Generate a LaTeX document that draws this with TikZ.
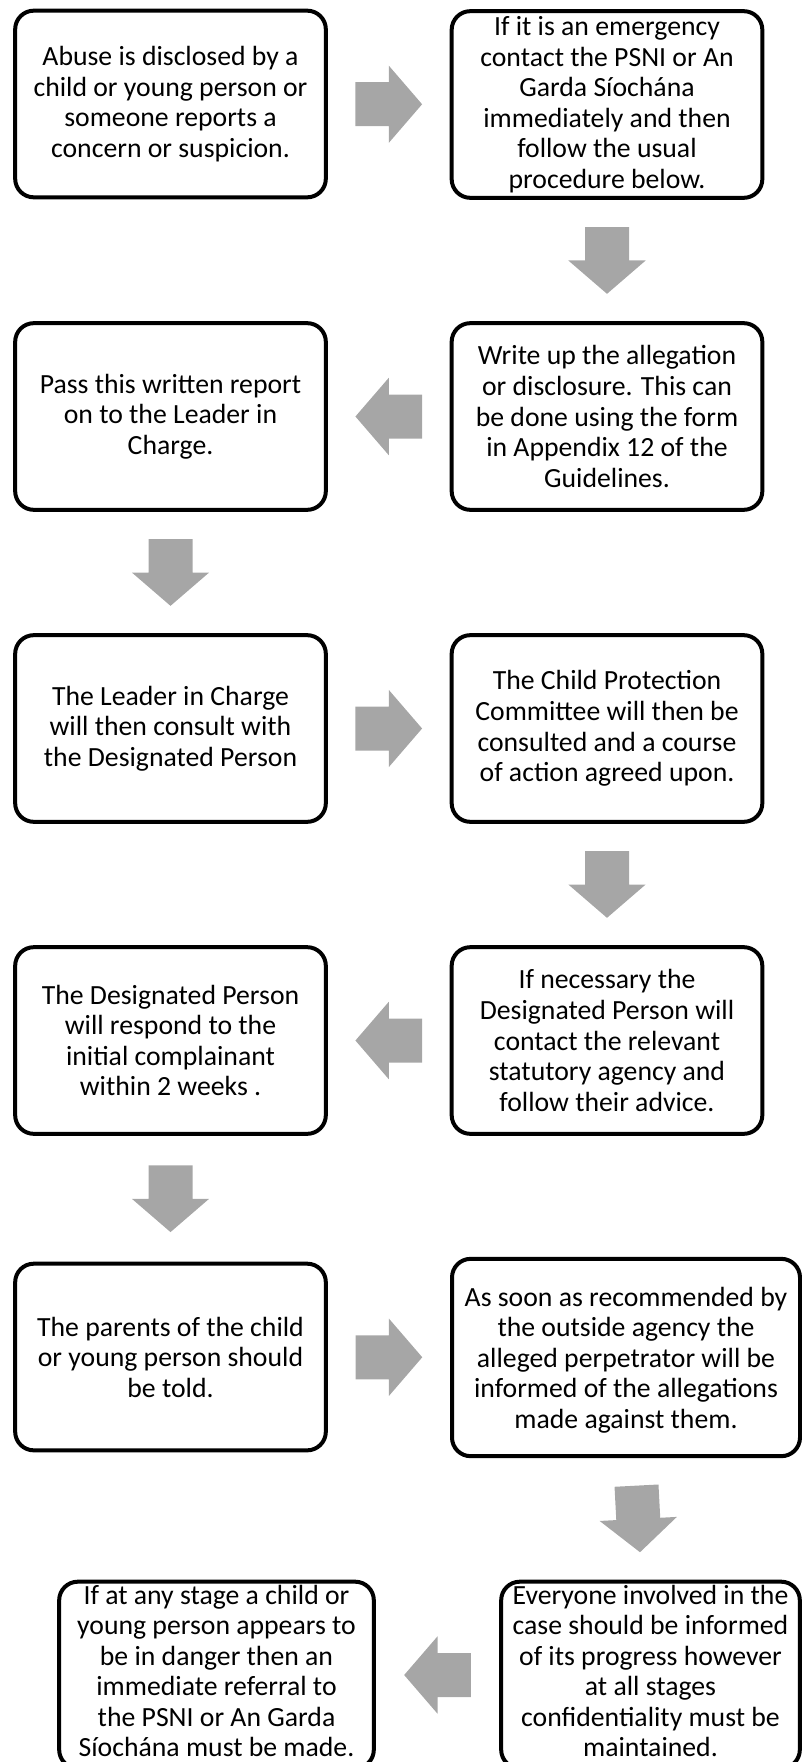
\documentclass[tikz,border=0pt]{standalone}
\usepackage{fontspec}
\setmainfont{Carlito}
\usetikzlibrary{calc}
\definecolor{arrowgray}{RGB}{166,166,166}

\begin{document}
\begin{tikzpicture}[x=0.75pt, y=-0.75pt,
    stepbox/.style={draw, line width=3pt, rounded corners=14pt, align=center, inner sep=0pt,
        minimum width=233pt, minimum height=140pt, font=\fontsize{20.8}{22.9}\selectfont},
    bigarrow/.pic={\fill[arrowgray] (-25pt,-16.5pt) -- (0pt,-16.5pt) -- (0pt,-29pt) -- (25pt,0pt)
        -- (0pt,29pt) -- (0pt,16.5pt) -- (-25pt,16.5pt) -- cycle;}]
\useasboundingbox (0,0) rectangle (802,1762);

\node[stepbox] (b1) at (170.5,104) {Abuse is disclosed by a\\child or young person or\\someone reports a\\concern or suspicion.};
\node[stepbox] (b2) at (607,104.5) {If it is an emergency\\contact the PSNI or An\\Garda Síochána\\immediately and then\\follow the usual\\procedure below.};
\node[stepbox] (b3) at (607,416.5) {Write up the allegation\\or disclosure. This can\\be done using the form\\in Appendix 12 of the\\Guidelines.};
\node[stepbox] (b4) at (170.5,416.5) {Pass this written report\\on to the Leader in\\Charge.};
\node[stepbox] (b5) at (170.5,728.5) {The Leader in Charge\\will then consult with\\the Designated Person};
\node[stepbox] (b6) at (607,728.5) {The Child Protection\\Committee will then be\\consulted and a course\\of action agreed upon.};
\node[stepbox] (b7) at (607,1040.5) {If necessary the\\Designated Person will\\contact the relevant\\statutory agency and\\follow their advice.};
\node[stepbox] (b8) at (170.5,1040.5) {The Designated Person\\will respond to the\\initial complainant\\within 2 weeks .};
\node[stepbox] (b9) at (170.5,1357) {The parents of the child\\or young person should\\be told.};
\node[stepbox, minimum width=261pt, minimum height=148pt, text depth=-19pt] (b10) at (626,1357.5) {As soon as recommended by\\the outside agency the\\alleged perpetrator will be\\informed of the allegations\\made against them.};
\node[stepbox, minimum width=224pt, text depth=6pt] (b11) at (650.5,1675) {Everyone involved in the\\case should be informed\\of its progress however\\at all stages\\confidentiality must be\\maintained.};
\node[stepbox, minimum width=236pt, text depth=6pt] (b12) at (216.5,1675) {If at any stage a child or\\young person appears to\\be in danger then an\\immediate referral to\\the PSNI or An Garda\\Síochána must be made.};

\pic (a1) at ($(b1.east)!0.5!(b2.west)$) {bigarrow};
\pic[rotate=-90] (a2) at ($(b2.south)!0.5!(b3.north)$) {bigarrow};
\pic[rotate=180] (a3) at ($(b3.west)!0.5!(b4.east)$) {bigarrow};
\pic[rotate=-90] (a4) at ($(b4.south)!0.5!(b5.north)$) {bigarrow};
\pic (a5) at ($(b5.east)!0.5!(b6.west)$) {bigarrow};
\pic[rotate=-90] (a6) at ($(b6.south)!0.5!(b7.north)$) {bigarrow};
\pic[rotate=180] (a7) at ($(b7.west)!0.5!(b8.east)$) {bigarrow};
\pic[rotate=-90] (a8) at ($(b8.south)!0.5!(b9.north)$) {bigarrow};
\pic (a9) at ($(b9.east)!0.5!(b10.west)$) {bigarrow};
\pic[rotate=-87] (a10) at ($(b10.south)!0.5!(b11.north)$) {bigarrow};
\pic[rotate=180] (a11) at ($(b11.west)!0.5!(b12.east)$) {bigarrow};
\end{tikzpicture}
\end{document}
